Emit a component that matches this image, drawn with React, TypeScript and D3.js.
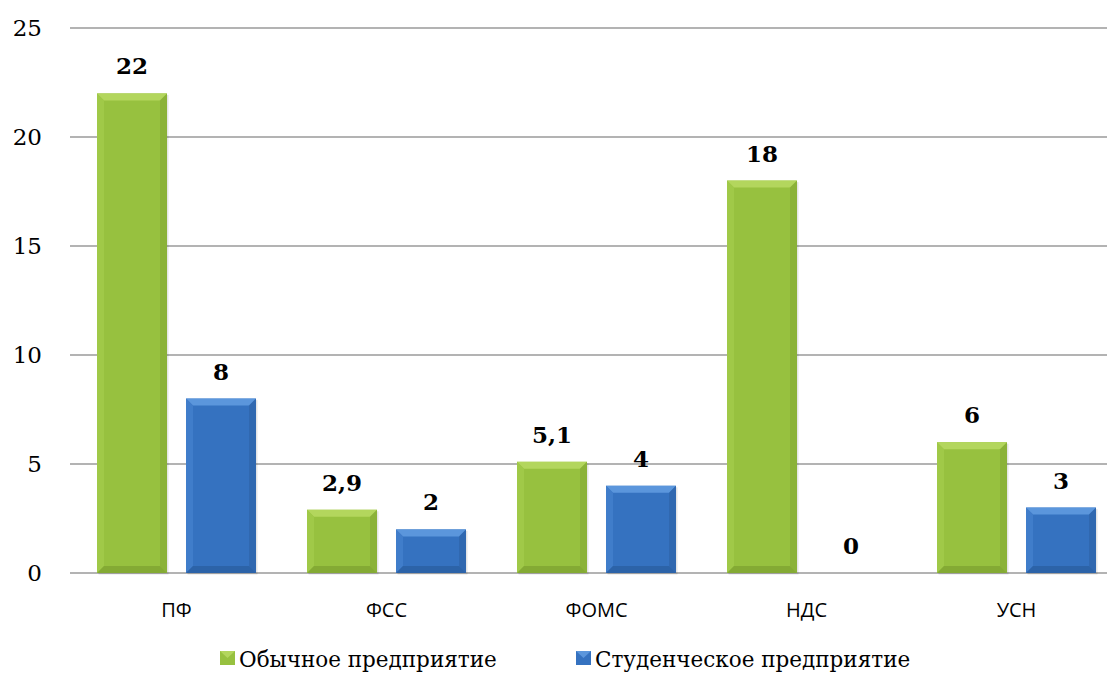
import React from "react";
import * as d3 from "d3";

const categories = ["ПФ", "ФСС", "ФОМС", "НДС", "УСН"];
const regular = [22, 2.9, 5.1, 18, 6];
const student = [8, 2, 4, 0, 3];
const seriesNames = ["Обычное предприятие", "Студенческое предприятие"];
const yTicks = [0, 5, 10, 15, 20, 25];

const W = 1107;
const H = 679;
const gridLeft = 70;
const gridRight = 1107;
const top = 28;
const bottom = 573;
const serif = "DejaVu Serif";
const sans = "Open Sans";

const fmt = (v: number) => String(v).replace(".", ",");

const palette = [
  { base: "#97c13f", light: "#b3d65d", dark: "#7c9f31", side: "#a3cb4b" },
  { base: "#3572c0", light: "#5b96dc", dark: "#2a5d9e", side: "#447fcc" },
];

function Bar({ x, y, w, h, c }: { x: number; y: number; w: number; h: number; c: typeof palette[0] }) {
  if (h <= 0) return null;
  const b = Math.min(7, h / 2);
  return (
    <g>
      <rect x={x + 1.5} y={y + 1.5} width={w} height={h} fill="#000" opacity={0.1} />
      <rect x={x} y={y} width={w} height={h} fill={c.base} />
      <polygon points={`${x},${y} ${x + w},${y} ${x + w - b},${y + b} ${x + b},${y + b}`} fill={c.light} />
      <polygon points={`${x},${y} ${x + b},${y + b} ${x + b},${y + h - b} ${x},${y + h}`} fill={c.side} opacity={0.8} />
      <polygon points={`${x + w},${y} ${x + w},${y + h} ${x + w - b},${y + h - b} ${x + w - b},${y + b}`} fill={c.dark} opacity={0.45} />
      <polygon points={`${x},${y + h} ${x + b},${y + h - b} ${x + w - b},${y + h - b} ${x + w},${y + h}`} fill={c.dark} opacity={0.7} />
    </g>
  );
}

export default function App() {
  const x0 = d3.scaleBand<string>().domain(categories).range([71.5, 1121.5]);
  const x1 = d3.scaleBand<number>().domain([0, 1]).range([25.5, 184.5]).paddingInner(0.2135).paddingOuter(0);
  const y = d3.scaleLinear().domain([0, 25]).range([bottom, top]);
  const data = [regular, student];
  const legendX = [220, 576];

  return (
    <svg width={W} height={H} style={{ position: "absolute", left: 0, top: 0, background: "#fff" }}>
      {yTicks.map((t) => (
        <g key={t}>
          <line x1={gridLeft} x2={gridRight} y1={y(t)} y2={y(t)} stroke="#9a9a9a" strokeWidth={1.5} />
          <text x={42} y={y(t)} dy="0.36em" textAnchor="end" fontFamily={serif} fontSize={23} fill="#000">
            {t}
          </text>
        </g>
      ))}
      {categories.map((cat, i) => (
        <g key={cat}>
          {data.map((s, k) => {
            const bx = (x0(cat) ?? 0) + (x1(k) ?? 0);
            const bw = x1.bandwidth();
            return (
              <g key={k}>
                <Bar x={bx} y={y(s[i])} w={bw} h={y(0) - y(s[i])} c={palette[k]} />
                <text x={bx + bw / 2} y={y(s[i]) - 19} textAnchor="middle" fontFamily={serif} fontWeight="bold" fontSize={23} fill="#000">
                  {fmt(s[i])}
                </text>
              </g>
            );
          })}
          <text x={(x0(cat) ?? 0) + x0.bandwidth() / 2} y={617} textAnchor="middle" fontFamily={sans} fontSize={20} fill="#000">
            {cat}
          </text>
        </g>
      ))}
      {seriesNames.map((name, k) => {
        const lx = legendX[k];
        return (
          <g key={name}>
            <rect x={lx} y={651} width={15} height={14} fill={palette[k].base} />
            <polygon points={`${lx},651 ${lx + 15},651 ${lx + 7.5},658`} fill={palette[k].light} />
            <text x={lx + 19} y={667} fontFamily={serif} fontSize={21.5} fill="#000">
              {name}
            </text>
          </g>
        );
      })}
    </svg>
  );
}
